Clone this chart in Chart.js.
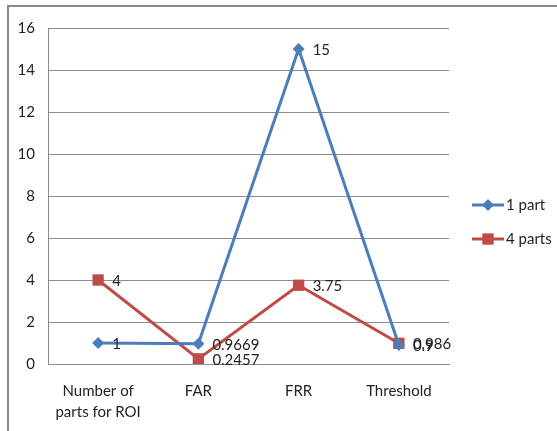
<!DOCTYPE html>
<html>
<head>
<meta charset="utf-8">
<script src="https://cdn.jsdelivr.net/npm/chart.js@4/dist/chart.umd.min.js"></script>
<style>
  html, body { margin: 0; padding: 0; background: #fff; }
  #wrap { position: relative; width: 557px; height: 431px; }
</style>
</head>
<body>
<div id="wrap"><canvas id="c" width="557" height="431"></canvas></div>
<script>
// Categories and series
const categories = [["Number of", "parts for ROI"], "FAR", "FRR", "Threshold"];
const onePart = [1, 0.9669, 15, 0.9];
const fourParts = [4, 0.2457, 3.75, 0.986];
const yTicks = [0, 2, 4, 6, 8, 10, 12, 14, 16];

const FONT = "'Liberation Sans Narrow', Lato, 'Open Sans', sans-serif";
const BLUE = '#4A7EBB';
const RED = '#BE4B48';
const GRID = '#8c8c8c';

// Value labels to the right of each point, plus the frame and legend
const extras = {
  id: 'extras',
  beforeDraw(chart) {
    const ctx = chart.ctx;
    ctx.save();
    ctx.fillStyle = '#fff';
    ctx.fillRect(0, 0, chart.width, chart.height);
    ctx.strokeStyle = '#8a8a8a';
    ctx.lineWidth = 2;
    ctx.strokeRect(8, 6, chart.width + 10, chart.height + 10);
    ctx.restore();
  },
  afterDatasetsDraw(chart) {
    const ctx = chart.ctx;
    ctx.save();
    ctx.font = '15px ' + FONT;
    ctx.fillStyle = '#222';
    ctx.textAlign = 'left';
    ctx.textBaseline = 'middle';
    chart.data.datasets.forEach((ds, i) => {
      const meta = chart.getDatasetMeta(i);
      meta.data.forEach((pt, j) => {
        ctx.fillText(String(ds.data[j]), pt.x + 14, pt.y + 1);
      });
    });
    // legend
    const items = [
      { label: '1 part', color: BLUE, style: 'rectRot', r: 6 },
      { label: '4 parts', color: RED, style: 'rect', r: 8 }
    ];
    items.forEach((it, k) => {
      const y = 205 + k * 34;
      ctx.strokeStyle = it.color;
      ctx.lineWidth = 3;
      ctx.beginPath();
      ctx.moveTo(472, y);
      ctx.lineTo(504, y);
      ctx.stroke();
      ctx.fillStyle = it.color;
      Chart.helpers.drawPoint(ctx, { pointStyle: it.style, radius: it.r, borderWidth: 0 }, 488, y);
      ctx.fillStyle = '#222';
      ctx.fillText(it.label, 506, y);
    });
    ctx.restore();
  }
};

new Chart(document.getElementById('c'), {
  type: 'line',
  data: {
    labels: categories,
    datasets: [
      {
        label: '1 part',
        data: onePart,
        borderColor: BLUE,
        backgroundColor: BLUE,
        borderWidth: 3,
        pointStyle: 'rectRot',
        pointRadius: 6,
        pointBorderWidth: 0,
        tension: 0
      },
      {
        label: '4 parts',
        data: fourParts,
        borderColor: RED,
        backgroundColor: RED,
        borderWidth: 3,
        pointStyle: 'rect',
        pointRadius: 8,
        pointBorderWidth: 0,
        tension: 0
      }
    ]
  },
  options: {
    responsive: false,
    animation: false,
    layout: { padding: { top: 28, right: 108, left: 0, bottom: 0 } },
    plugins: { legend: { display: false }, tooltip: { enabled: false } },
    scales: {
      x: {
        offset: true,
        grid: { display: false, drawTicks: false },
        border: { color: GRID, width: 1 },
        ticks: { color: '#222', font: { family: FONT, size: 15, lineHeight: 1.45 }, padding: 16, maxRotation: 0 },
        afterFit(s) { s.height = 67; }
      },
      y: {
        min: 0,
        max: 16,
        afterBuildTicks(s) { s.ticks = yTicks.map(v => ({ value: v })); },
        grid: { color: GRID, lineWidth: 1, drawTicks: false },
        border: { color: GRID, width: 1 },
        ticks: { color: '#222', font: { family: FONT, size: 15 }, padding: 13 },
        afterFit(s) { s.width = 48; }
      }
    }
  },
  plugins: [extras]
});
</script>
</body>
</html>
